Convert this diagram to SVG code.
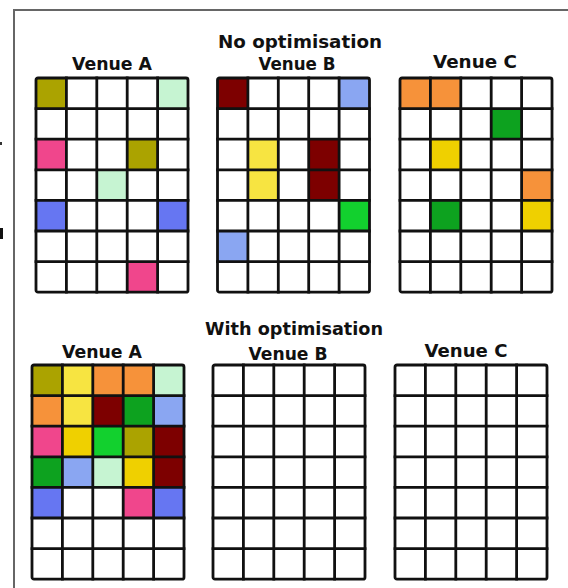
<svg xmlns="http://www.w3.org/2000/svg" width="568" height="588" viewBox="0 0 568 588">
  <style>
    .lbl { font-family: "DejaVu Sans", "Liberation Sans", sans-serif; font-weight: bold; font-size: 17px; fill: #111; text-anchor: middle; }
    .gridline { fill: none; stroke: #111; stroke-width: 2.8; stroke-linejoin: round; stroke-linecap: square; }
    .frame { fill: none; stroke: #666; stroke-width: 2; }
    .olive { fill: #aba300; }
    .mint { fill: #c6f4d2; }
    .pink { fill: #f0468c; }
    .blue { fill: #6676f2; }
    .dred { fill: #7d0000; }
    .lblue { fill: #8aa6f2; }
    .yel { fill: #f7e441; }
    .gold { fill: #efd000; }
    .bgrn { fill: #12d02e; }
    .dgrn { fill: #0da21f; }
    .orng { fill: #f6923a; }
  </style>
  <defs>
    <!-- 5 x 7 seat grid, cell 30.4 x 30.6 -->
    <g id="grid">
      <rect class="gridline" x="0" y="0" width="152" height="214.2" rx="2"/>
      <path class="gridline" d="M30.4 0V214.2M60.8 0V214.2M91.2 0V214.2M121.6 0V214.2M0 30.6H152M0 61.2H152M0 91.8H152M0 122.4H152M0 153H152M0 183.6H152"/>
    </g>
  </defs>

  <rect x="0" y="0" width="568" height="588" fill="#fff"/>

  <!-- page frame -->
  <path class="frame" d="M14 588V10H568"/>
  <rect x="0" y="142" width="2" height="3" fill="#333"/>
  <rect x="0" y="228" width="3" height="11" fill="#111"/>

  <!-- headings -->
  <text class="lbl" x="300" y="48" textLength="164" lengthAdjust="spacingAndGlyphs">No optimisation</text>
  <text class="lbl" x="294" y="335" textLength="178" lengthAdjust="spacingAndGlyphs">With optimisation</text>

  <!-- no optimisation: venue A -->
  <g id="top-venue-a">
    <text class="lbl" x="112" y="70" textLength="80" lengthAdjust="spacingAndGlyphs">Venue A</text>
    <g transform="translate(36 78)">
      <rect class="olive" x="0" y="0" width="30.4" height="30.6"/>
      <rect class="mint" x="121.6" y="0" width="30.4" height="30.6"/>
      <rect class="pink" x="0" y="61.2" width="30.4" height="30.6"/>
      <rect class="olive" x="91.2" y="61.2" width="30.4" height="30.6"/>
      <rect class="mint" x="60.8" y="91.8" width="30.4" height="30.6"/>
      <rect class="blue" x="0" y="122.4" width="30.4" height="30.6"/>
      <rect class="blue" x="121.6" y="122.4" width="30.4" height="30.6"/>
      <rect class="pink" x="91.2" y="183.6" width="30.4" height="30.6"/>
      <use href="#grid"/>
    </g>
  </g>

  <!-- no optimisation: venue B -->
  <g id="top-venue-b">
    <text class="lbl" x="297" y="70" textLength="77" lengthAdjust="spacingAndGlyphs">Venue B</text>
    <g transform="translate(217.5 78)">
      <rect class="dred" x="0" y="0" width="30.4" height="30.6"/>
      <rect class="lblue" x="121.6" y="0" width="30.4" height="30.6"/>
      <rect class="yel" x="30.4" y="61.2" width="30.4" height="61.2"/>
      <rect class="dred" x="91.2" y="61.2" width="30.4" height="61.2"/>
      <rect class="bgrn" x="121.6" y="122.4" width="30.4" height="30.6"/>
      <rect class="lblue" x="0" y="153" width="30.4" height="30.6"/>
      <use href="#grid"/>
    </g>
  </g>

  <!-- no optimisation: venue C -->
  <g id="top-venue-c">
    <text class="lbl" x="475" y="68" textLength="84" lengthAdjust="spacingAndGlyphs">Venue C</text>
    <g transform="translate(400 78)">
      <rect class="orng" x="0" y="0" width="60.8" height="30.6"/>
      <rect class="dgrn" x="91.2" y="30.6" width="30.4" height="30.6"/>
      <rect class="gold" x="30.4" y="61.2" width="30.4" height="30.6"/>
      <rect class="orng" x="121.6" y="91.8" width="30.4" height="30.6"/>
      <rect class="dgrn" x="30.4" y="122.4" width="30.4" height="30.6"/>
      <rect class="gold" x="121.6" y="122.4" width="30.4" height="30.6"/>
      <use href="#grid"/>
    </g>
  </g>

  <!-- with optimisation: venue A -->
  <g id="bottom-venue-a">
    <text class="lbl" x="102" y="358" textLength="80" lengthAdjust="spacingAndGlyphs">Venue A</text>
    <g transform="translate(32 365)">
      <rect class="olive" x="0" y="0" width="30.4" height="30.6"/>
      <rect class="yel" x="30.4" y="0" width="30.4" height="30.6"/>
      <rect class="orng" x="60.8" y="0" width="60.8" height="30.6"/>
      <rect class="mint" x="121.6" y="0" width="30.4" height="30.6"/>
      <rect class="orng" x="0" y="30.6" width="30.4" height="30.6"/>
      <rect class="yel" x="30.4" y="30.6" width="30.4" height="30.6"/>
      <rect class="dred" x="60.8" y="30.6" width="30.4" height="30.6"/>
      <rect class="dgrn" x="91.2" y="30.6" width="30.4" height="30.6"/>
      <rect class="lblue" x="121.6" y="30.6" width="30.4" height="30.6"/>
      <rect class="pink" x="0" y="61.2" width="30.4" height="30.6"/>
      <rect class="gold" x="30.4" y="61.2" width="30.4" height="30.6"/>
      <rect class="bgrn" x="60.8" y="61.2" width="30.4" height="30.6"/>
      <rect class="olive" x="91.2" y="61.2" width="30.4" height="30.6"/>
      <rect class="dred" x="121.6" y="61.2" width="30.4" height="61.2"/>
      <rect class="dgrn" x="0" y="91.8" width="30.4" height="30.6"/>
      <rect class="lblue" x="30.4" y="91.8" width="30.4" height="30.6"/>
      <rect class="mint" x="60.8" y="91.8" width="30.4" height="30.6"/>
      <rect class="gold" x="91.2" y="91.8" width="30.4" height="30.6"/>
      <rect class="blue" x="0" y="122.4" width="30.4" height="30.6"/>
      <rect class="pink" x="91.2" y="122.4" width="30.4" height="30.6"/>
      <rect class="blue" x="121.6" y="122.4" width="30.4" height="30.6"/>
      <use href="#grid"/>
    </g>
  </g>

  <!-- with optimisation: venue B -->
  <g id="bottom-venue-b">
    <text class="lbl" x="288" y="360" textLength="79" lengthAdjust="spacingAndGlyphs">Venue B</text>
    <g transform="translate(213 365)">
      <use href="#grid"/>
    </g>
  </g>

  <!-- with optimisation: venue C -->
  <g id="bottom-venue-c">
    <text class="lbl" x="466" y="357" textLength="83" lengthAdjust="spacingAndGlyphs">Venue C</text>
    <g transform="translate(395 365)">
      <use href="#grid"/>
    </g>
  </g>
</svg>
